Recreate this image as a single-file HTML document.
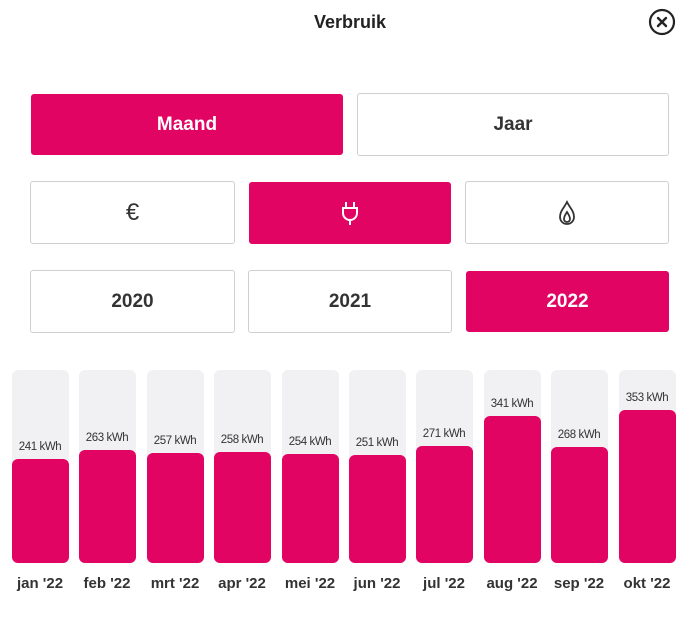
<!DOCTYPE html>
<html><head><meta charset="utf-8"><style>
body{margin:0;width:700px;height:636px;background:#fff;position:relative;overflow:hidden;font-family:"Liberation Sans",sans-serif;color:#222}
.a{position:absolute}
.btn{position:absolute;box-sizing:border-box;border:1.5px solid #cfcfcf;border-radius:3px;background:#fff;display:flex;align-items:center;justify-content:center;font-size:19px;font-weight:bold;color:#333}
.on{background:#e20462;border-color:#e20462;color:#fff}
.g{position:absolute;top:370px;height:193px;width:57px;background:#f1f1f3;border-radius:6px}
.p{position:absolute;width:57px;background:#e20462;border-radius:6px;bottom:73px}
.v{position:absolute;width:80px;text-align:center;font-size:11.5px;color:#333;letter-spacing:-0.4px}
.m{position:absolute;top:575px;width:80px;text-align:center;font-size:15px;font-weight:bold;color:#333}
</style></head><body>
<div class="a" style="left:0;width:700px;top:12px;text-align:center;font-size:18px;font-weight:bold">Verbruik</div>
<svg class="a" style="left:648px;top:8px" width="28" height="28" viewBox="0 0 28 28"><circle cx="14" cy="14" r="12" fill="none" stroke="#222" stroke-width="2.2"/><path d="M10 10L18 18M18 10L10 18" stroke="#222" stroke-width="2.4" stroke-linecap="round"/></svg>
<div class="btn on" style="left:31px;top:94px;width:312px;height:61px">Maand</div>
<div class="btn" style="left:357px;top:93px;width:312px;height:63px">Jaar</div>
<div class="btn" style="left:30px;top:181px;width:205px;height:63px;font-size:24px;font-weight:normal">€</div>
<div class="btn on" style="left:249px;top:182px;width:202px;height:62px"><svg width="20" height="26" viewBox="0 0 20 26"><path d="M6 2v6M14 2v6M3 8h14v5a7 7 0 0 1-14 0z M10 20v5" fill="none" stroke="#fff" stroke-width="2"/></svg></div>
<div class="btn" style="left:465px;top:181px;width:204px;height:63px"><svg width="18" height="26" viewBox="0 0 18 26"><path d="M9 2C6 8 2 11 2 17a7 7 0 0 0 14 0C16 11 12 8 9 2z M9 12c-2 3-3 5-3 7a3 3 0 0 0 6 0c0-2-1-4-3-7z" fill="none" stroke="#333" stroke-width="1.8"/></svg></div>
<div class="btn" style="left:30px;top:270px;width:205px;height:63px">2020</div>
<div class="btn" style="left:248px;top:270px;width:204px;height:63px">2021</div>
<div class="btn on" style="left:466px;top:271px;width:203px;height:61px">2022</div>

<div class="g" style="left:12px"></div><div class="p" style="left:12px;top:459px"></div><div class="v" style="left:0px;top:441px">241 kWh</div><div class="m" style="left:0px">jan '22</div>
<div class="g" style="left:79px"></div><div class="p" style="left:79px;top:450px"></div><div class="v" style="left:67px;top:432px">263 kWh</div><div class="m" style="left:67px">feb '22</div>
<div class="g" style="left:147px"></div><div class="p" style="left:147px;top:453px"></div><div class="v" style="left:135px;top:435px">257 kWh</div><div class="m" style="left:135px">mrt '22</div>
<div class="g" style="left:214px"></div><div class="p" style="left:214px;top:452px"></div><div class="v" style="left:202px;top:434px">258 kWh</div><div class="m" style="left:202px">apr '22</div>
<div class="g" style="left:282px"></div><div class="p" style="left:282px;top:454px"></div><div class="v" style="left:270px;top:436px">254 kWh</div><div class="m" style="left:270px">mei '22</div>
<div class="g" style="left:349px"></div><div class="p" style="left:349px;top:455px"></div><div class="v" style="left:337px;top:437px">251 kWh</div><div class="m" style="left:337px">jun '22</div>
<div class="g" style="left:416px"></div><div class="p" style="left:416px;top:446px"></div><div class="v" style="left:404px;top:428px">271 kWh</div><div class="m" style="left:404px">jul '22</div>
<div class="g" style="left:484px"></div><div class="p" style="left:484px;top:416px"></div><div class="v" style="left:472px;top:398px">341 kWh</div><div class="m" style="left:472px">aug '22</div>
<div class="g" style="left:551px"></div><div class="p" style="left:551px;top:447px"></div><div class="v" style="left:539px;top:429px">268 kWh</div><div class="m" style="left:539px">sep '22</div>
<div class="g" style="left:619px"></div><div class="p" style="left:619px;top:410px"></div><div class="v" style="left:607px;top:392px">353 kWh</div><div class="m" style="left:607px">okt '22</div>
</body></html>
